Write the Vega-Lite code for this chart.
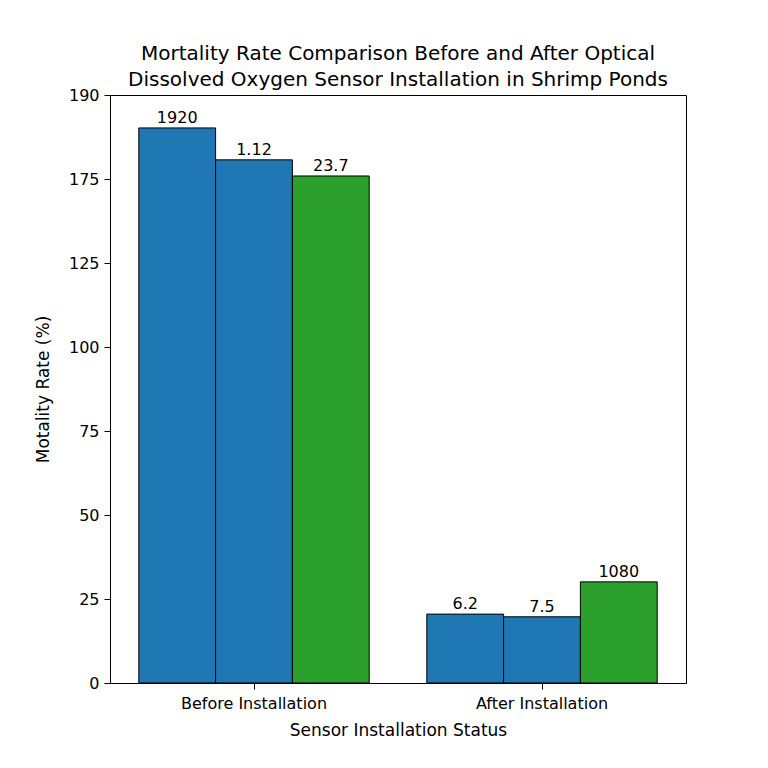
{
  "$schema": "https://vega.github.io/schema/vega-lite/v6.json",
  "autosize": "none",
  "width": 576,
  "height": 588,
  "padding": {"left": 110, "top": 95, "right": 82, "bottom": 85},
  "background": "white",
  "config": {
    "font": "DejaVu Sans",
    "view": {"stroke": "black", "strokeWidth": 1},
    "axis": {"grid": false, "domainColor": "black", "tickColor": "black", "labelColor": "black", "titleColor": "black", "labelFontSize": 16, "titleFontSize": 17, "titleFontWeight": "normal", "labelFont": "DejaVu Sans", "titleFont": "DejaVu Sans", "tickSize": 6}
  },
  "title": {
    "text": ["Mortality Rate Comparison Before and After Optical", "Dissolved Oxygen Sensor Installation in Shrimp Ponds"],
    "fontSize": 20,
    "fontWeight": "normal",
    "font": "DejaVu Sans",
    "color": "black",
    "anchor": "middle",
    "offset": -3,
    "lineHeight": 26
  },
  "data": {
    "values": [
      {"status": "Before Installation", "series": "s1", "rate": 165.2, "label": "1920"},
      {"status": "Before Installation", "series": "s2", "rate": 155.7, "label": "1.12"},
      {"status": "Before Installation", "series": "s3", "rate": 150.9, "label": "23.7"},
      {"status": "After Installation", "series": "s1", "rate": 20.5, "label": "6.2"},
      {"status": "After Installation", "series": "s2", "rate": 19.7, "label": "7.5"},
      {"status": "After Installation", "series": "s3", "rate": 30.1, "label": "1080"}
    ]
  },
  "encoding": {
    "x": {
      "field": "status", "type": "nominal", "sort": ["Before Installation", "After Installation"],
      "scale": {"paddingInner": 0.2, "paddingOuter": 0.1},
      "axis": {"title": "Sensor Installation Status", "labelAngle": 0, "labelPadding": 6, "titlePadding": 11}
    },
    "xOffset": {"field": "series", "type": "nominal", "scale": {"paddingInner": 0, "paddingOuter": 0}},
    "y": {
      "field": "rate", "type": "quantitative",
      "scale": {"domain": [0, 175], "nice": false},
      "axis": {"title": "Motality Rate (%)", "values": [0, 25, 50, 75, 100, 125, 150, 175],
        "labelExpr": "datum.value == 150 ? '175' : datum.value == 175 ? '190' : datum.label",
        "labelPadding": 5, "titlePadding": 16}
    }
  },
  "layer": [
    {
      "mark": {"type": "bar", "stroke": "black", "strokeWidth": 1},
      "encoding": {
        "color": {"field": "series", "type": "nominal", "legend": null,
          "scale": {"domain": ["s1", "s2", "s3"], "range": ["#1f77b4", "#1f77b4", "#2ca02c"]}}
      }
    },
    {
      "mark": {"type": "text", "baseline": "bottom", "dy": -2, "fontSize": 16, "color": "black", "font": "DejaVu Sans"},
      "encoding": {"text": {"field": "label", "type": "nominal"}}
    }
  ]
}
